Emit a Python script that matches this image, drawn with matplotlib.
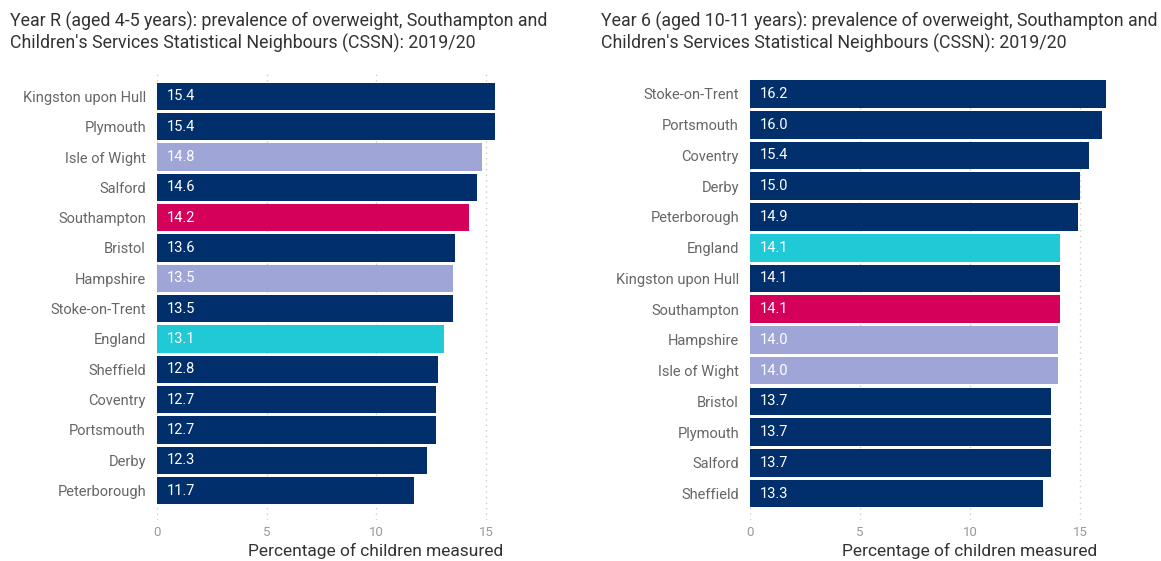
import matplotlib.pyplot as plt

navy = "#002F6C"
lilac = "#A0A5D8"
pink = "#D5005A"
cyan = "#1FCAD6"

year_r_areas = ["Kingston upon Hull", "Plymouth", "Isle of Wight", "Salford", "Southampton",
                "Bristol", "Hampshire", "Stoke-on-Trent", "England", "Sheffield",
                "Coventry", "Portsmouth", "Derby", "Peterborough"]
year_r_values = [15.4, 15.4, 14.8, 14.6, 14.2, 13.6, 13.5, 13.5, 13.1, 12.8, 12.7, 12.7, 12.3, 11.7]
year_r_colours = [navy, navy, lilac, navy, pink, navy, lilac, navy, cyan, navy, navy, navy, navy, navy]

year_6_areas = ["Stoke-on-Trent", "Portsmouth", "Coventry", "Derby", "Peterborough",
                "England", "Kingston upon Hull", "Southampton", "Hampshire", "Isle of Wight",
                "Bristol", "Plymouth", "Salford", "Sheffield"]
year_6_values = [16.2, 16.0, 15.4, 15.0, 14.9, 14.1, 14.1, 14.1, 14.0, 14.0, 13.7, 13.7, 13.7, 13.3]
year_6_colours = [navy, navy, navy, navy, navy, cyan, navy, pink, lilac, lilac, navy, navy, navy, navy]

plt.rcParams["font.family"] = ["Roboto", "DejaVu Sans"]

W, H = 1161, 561
fig = plt.figure(figsize=(W / 100, H / 100), dpi=100)


def panel(x0, x1, y0, y1, xmax, ylim, areas, values, colours, title, tx, xlab_x):
    ax = fig.add_axes([x0 / W, 1 - y1 / H, (x1 - x0) / W, (y1 - y0) / H])
    pos = list(range(len(areas)))
    ax.barh(pos, values, height=0.9, color=colours, zorder=2)
    for p, v in zip(pos, values):
        ax.text(0.45, p, f"{v:.1f}", color="white", va="center", ha="left", fontsize=10.5, zorder=3)
    ax.set_yticks(pos)
    ax.set_yticklabels(areas, fontsize=10.5, color="#666666")
    ax.set_ylim(ylim)
    ax.set_xlim(0, xmax)
    ax.set_xticks([0, 5, 10, 15])
    ax.tick_params(axis="x", colors="#999999", labelsize=9.5, length=0, pad=4)
    ax.tick_params(axis="y", length=0, pad=8)
    ax.grid(axis="x", color="#CCCCCC", linestyle=(0, (1, 3)), linewidth=1, zorder=0)
    for s in ax.spines.values():
        s.set_visible(False)
    fig.text(tx / W, 1 - 12 / H, title, fontsize=12.8, color="#333333", va="top", ha="left",
             linespacing=1.2)
    fig.text(xlab_x / W, 1 - 551 / H, "Percentage of children measured", fontsize=12.5,
             color="#333333", ha="center", va="center")
    return ax


panel(157, 508, 70, 520, 16.0, (13.97, -0.87), year_r_areas, year_r_values, year_r_colours,
      "Year R (aged 4-5 years): prevalence of overweight, Southampton and\n"
      "Children's Services Statistical Neighbours (CSSN): 2019/20", 10, 376)

panel(750, 1113, 78, 520, 16.5, (13.86, -0.52), year_6_areas, year_6_values, year_6_colours,
      "Year 6 (aged 10-11 years): prevalence of overweight, Southampton and\n"
      "Children's Services Statistical Neighbours (CSSN): 2019/20", 601, 970)

fig.savefig("out.png", dpi=100)
